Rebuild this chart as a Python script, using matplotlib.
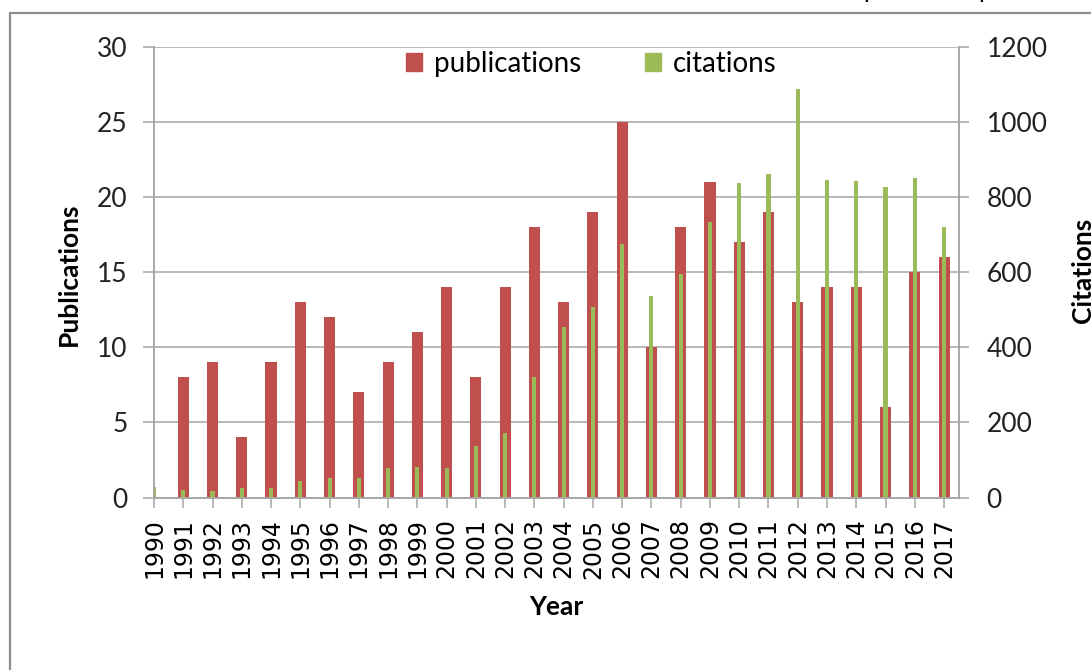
import matplotlib
matplotlib.use("Agg")
import matplotlib.pyplot as plt
from matplotlib.lines import Line2D
from matplotlib.patches import Patch
import numpy as np

years = list(range(1990, 2018))
publications = [0, 8, 9, 4, 9, 13, 12, 7, 9, 11, 14, 8, 14, 18, 13,
                19, 25, 10, 18, 21, 17, 19, 13, 14, 14, 6, 15, 16]
citations = [28, 20, 17, 24, 24, 43, 51, 51, 78, 82, 78, 136, 171, 321, 455,
             508, 676, 536, 595, 734, 839, 862, 1087, 847, 843, 828, 850, 720]

red = "#C0504D"
green = "#9BBB59"
grey = "#a6a6a6"
W, H = 1091, 670

fig = plt.figure(figsize=(W / 100, H / 100), dpi=100)
ax = fig.add_axes([154 / W, 1 - 497.5 / H, (958.7 - 154) / W, (497.5 - 47) / H])
ax2 = ax.twinx()

x = np.arange(len(years))
ax.bar(x, publications, width=0.38, color=red, zorder=2)
ax2.bar(x, citations, width=0.14, color=green, zorder=2)

ax.set_xlim(0, 27.5)
ax.set_ylim(0, 30)
ax2.set_ylim(0, 1200)
ax.set_yticks(range(0, 31, 5))
ax2.set_yticks(range(0, 1201, 200))
ax.set_xticks(x)
ax.set_xticklabels([str(y) for y in years], rotation=90, fontsize=17,
                   family="DejaVu Sans")

ax.grid(axis="y", color=grey, lw=1.1, zorder=0)
ax.set_axisbelow(True)
for a in (ax, ax2):
    a.spines["top"].set_visible(False)
    for s in ("left", "right", "bottom"):
        a.spines[s].set_color(grey)
        a.spines[s].set_linewidth(1.1)
ax.tick_params(axis="y", length=8, width=1.1, color=grey, pad=11,
               labelsize=19, labelcolor="#222222")
ax.tick_params(axis="x", length=7, width=1.1, color=grey, pad=8)
ax2.tick_params(axis="y", length=7, width=1.1, color=grey, pad=13,
                labelsize=19, labelcolor="#222222")
for lab in ax.get_yticklabels() + ax2.get_yticklabels():
    lab.set_family("Lato")

fig.text(69 / W, 1 - 274 / H, "Publications", rotation=90, ha="center",
         va="center", fontsize=19, fontweight="bold", family="Lato")
fig.text(556 / W, 1 - 607 / H, "Year", ha="center", va="center",
         fontsize=19, fontweight="bold", family="Lato")
fig.text(1083 / W, 1 - 270 / H, "Citations", rotation=90, ha="center",
         va="center", fontsize=19, fontweight="bold", family="Lato")

handles = [Patch(color=red, label="publications"),
           Patch(color=green, label="citations")]
fig.legend(handles=handles, loc="center", bbox_to_anchor=(591 / W, 1 - 64 / H),
           ncol=2, frameon=False, prop={"family": "Lato", "size": 20},
           handlelength=0.6, handleheight=0.6, handletextpad=0.4,
           columnspacing=2.3)

# outer frame of the chart area
fig.add_artist(Line2D([10 / W, 10 / W, 1], [0, 1 - 12.7 / H, 1 - 12.7 / H],
                      transform=fig.transFigure, color="#8c8c8c", lw=1.6))
# cut-off text above the frame
for px in (870, 985):
    fig.text(px / W, 1 + 2.5 / H, "p", ha="center", va="baseline",
             fontsize=18, family="Lato")

fig.savefig("out.png", dpi=100)
